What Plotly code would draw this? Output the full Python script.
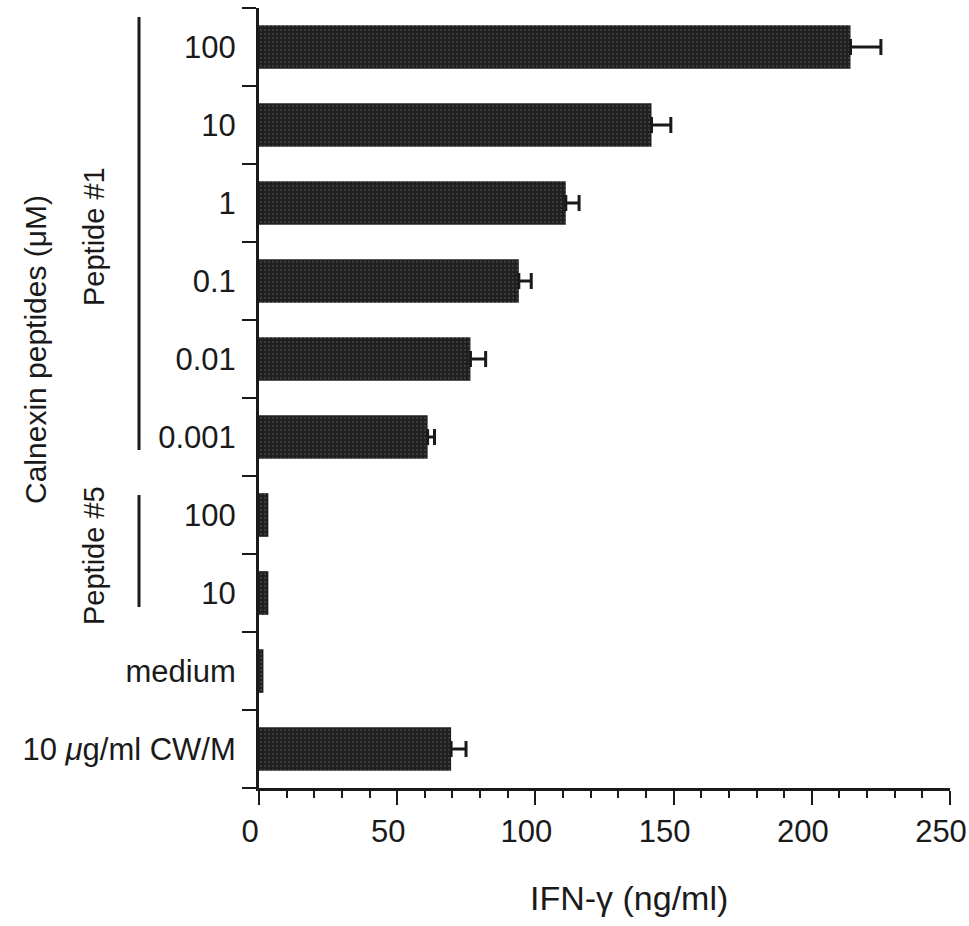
import plotly.graph_objects as go

# ---- data ----
labels = ["100", "10", "1", "0.1", "0.01", "0.001", "100", "10", "medium", "10 <i>μ</i>g/ml CW/M"]
values = [214, 142, 111, 94, 76.5, 61, 3.4, 3.4, 1.6, 69.5]
errors = [11, 7, 4.8, 4.5, 5.5, 2.5, 0, 0, 0, 5.4]
x_ticks = [0, 50, 100, 150, 200, 250]

positions = list(range(len(labels)))
FONT = "Liberation Sans, Arial, Helvetica, sans-serif"
INK = "#1a1a1a"

W, H = 969, 926
L, R, T, B = 259, 19, 8, 138


def px(xp):
    return (xp - L) / (W - L - R)


def py(yp):
    return (H - B - yp) / (H - T - B)


fig = go.Figure(go.Bar(
    x=values, y=positions, orientation="h", width=0.56,
    marker=dict(color="#1e1e1e", line=dict(width=0),
                pattern=dict(shape=".", fgcolor="#5a5a5a", bgcolor="#1e1e1e", size=4, solidity=0.25)),
))

# error bars only for rows that have one (positive side only)
err_idx = [i for i, e in enumerate(errors) if e > 0]
fig.add_trace(go.Scatter(
    x=[values[i] for i in err_idx], y=[positions[i] for i in err_idx], mode="markers",
    marker=dict(size=1, color="rgba(0,0,0,0)"), hoverinfo="skip",
    error_x=dict(type="data", array=[errors[i] for i in err_idx], arrayminus=[0] * len(err_idx),
                 symmetric=False, color=INK, thickness=3, width=8),
))

fig.update_layout(
    width=W, height=H,
    margin=dict(l=L, r=R, t=T, b=B, pad=0, autoexpand=False),
    plot_bgcolor="white", paper_bgcolor="white",
    showlegend=False,
    font=dict(family=FONT, size=31, color=INK),
    xaxis=dict(range=[0, 250], tickvals=x_ticks, ticks="outside", ticklen=14, tickwidth=2,
               tickcolor=INK, showline=True, linecolor=INK, linewidth=3, showgrid=False,
               zeroline=False, tickfont=dict(size=31, color=INK), ticklabelshift=-9,
               automargin=False,
               minor=dict(dtick=10, tick0=0, ticks="outside", ticklen=7, tickwidth=2, tickcolor=INK,
                          showgrid=False)),
    yaxis=dict(range=[9.5, -0.5], tickmode="array", tickvals=positions, ticktext=labels,
               ticks="", showline=True, linecolor=INK, linewidth=3, showgrid=False,
               zeroline=False, ticklabelstandoff=14, tickfont=dict(size=31, color=INK),
               automargin=False,
               minor=dict(tickmode="array", tickvals=[p - 0.5 for p in positions] + [len(labels) - 0.5],
                          ticks="outside", ticklen=14, tickwidth=2, tickcolor=INK, showgrid=False)),
)

ann = dict(xref="paper", yref="paper", showarrow=False, xanchor="center", yanchor="middle",
           font=dict(family=FONT, size=29, color=INK))
fig.add_annotation(text="Calnexin peptides (μM)", x=px(35), y=py(350), textangle=-90,
                   **{**ann, "font": dict(family=FONT, size=30, color=INK)})
fig.add_annotation(text="Peptide #1", x=px(94), y=py(237), textangle=-90, **ann)
fig.add_annotation(text="Peptide #5", x=px(94), y=py(556), textangle=-90, **ann)
fig.add_annotation(text="IFN-γ (ng/ml)", x=px(629), y=py(898), textangle=0,
                   **{**ann, "font": dict(family=FONT, size=34, color=INK)})

line = dict(type="line", xref="paper", yref="paper", line=dict(color=INK, width=3))
fig.add_shape(x0=px(139), x1=px(139), y0=py(17), y1=py(450), **line)
fig.add_shape(x0=px(139), x1=px(139), y0=py(495), y1=py(607), **line)

fig.write_html("out.html", config={"displayModeBar": False},
               post_script="document.body.style.margin='0';")
